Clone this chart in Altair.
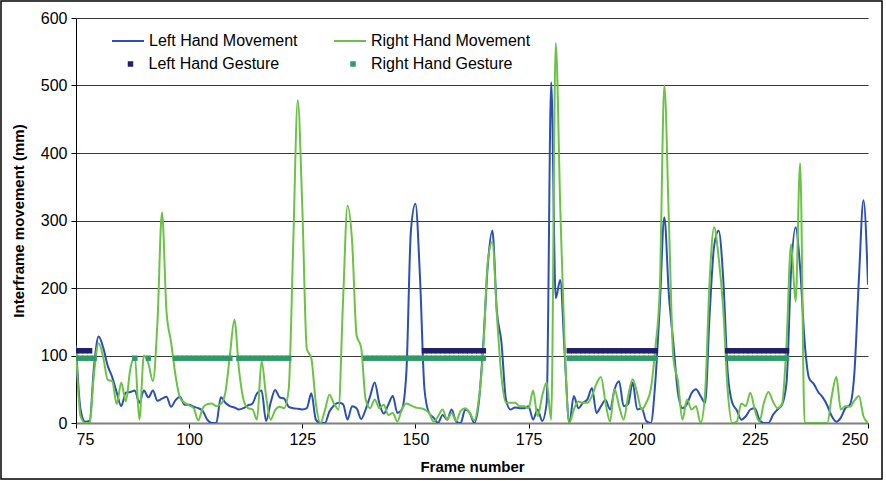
import altair as alt
import pandas as pd

# ---------------- data ----------------
FIRST_FRAME = 75

left_movement = [
    115, 20, 2, 3, 85, 128, 112, 85, 68, 45,          # 75-84
    25, 45, 46, 48, 30, 48, 38, 48, 33, 36,           # 85-94
    39, 24, 34, 39, 27, 27, 24, 22, 18, 5,            # 95-104
    0, 0, 38, 30, 25, 23, 20, 22, 26, 29,             # 105-114
    44, 48, 3, 30, 49, 38, 36, 24, 22, 21,            # 115-124
    20, 22, 44, 5, 0, 0, 17, 26, 30, 28,              # 125-134
    5, 25, 22, 6, 20, 40, 60, 30, 14, 27,             # 135-144
    40, 15, 20, 75, 285, 325, 217, 50, 15, 8,         # 145-154
    0, 12, 5, 20, 2, 0, 20, 15, 0, 30,                # 155-164
    118, 235, 285, 165, 120, 35, 20, 23, 22, 22,      # 165-174
    25, 5, 20, 3, 30, 505, 185, 212, 100, 0,          # 175-184
    40, 22, 30, 35, 52, 15, 25, 34, 20, 50,           # 185-194
    62, 25, 28, 60, 20, 22, 3, 0, 60, 175,            # 195-204
    305, 190, 118, 45, 22, 28, 44, 50, 40, 30,        # 205-214
    160, 262, 285, 215, 75, 30, 19, 5, 10, 20,        # 215-224
    22, 5, 0, 0, 12, 20, 27, 60, 225, 290,            # 225-234
    230, 120, 66, 58, 46, 38, 26, 10, 2, 8,           # 235-244
    22, 27, 75, 215, 330, 205,                        # 245-250
]

right_movement = [
    110, 10, 0, 0, 75, 118, 98, 64, 62, 28,           # 75-84
    60, 32, 80, 98, 5, 100, 88, 62, 150, 312,         # 85-94
    165, 120, 70, 37, 30, 26, 22, 4, 22, 28,          # 95-104
    29, 25, 28, 45, 100, 153, 80, 35, 22, 20,         # 105-114
    5, 92, 40, 5, 19, 24, 22, 50, 266, 478,           # 115-124
    320, 110, 96, 29, 0, 19, 42, 29, 20, 180,         # 125-134
    322, 270, 130, 112, 35, 22, 35, 22, 27, 12,       # 135-144
    15, 2, 20, 29, 26, 23, 22, 20, 15, 2,             # 145-154
    10, 20, 5, 15, 3, 18, 22, 15, 4, 35,              # 155-164
    110, 240, 268, 160, 69, 30, 30, 30, 25, 25,       # 165-174
    22, 48, 10, 40, 60, 5, 563, 320, 110, 0,          # 175-184
    20, 32, 30, 30, 40, 58, 68, 30, 2, 50,            # 185-194
    25, 5, 40, 65, 44, 20, 30, 50, 110, 200,          # 195-204
    500, 300, 95, 62, 5, 35, 20, 25, 0, 44,           # 205-214
    210, 290, 245, 170, 48, 0, 2, 29, 25, 45,         # 215-224
    19, 2, 30, 46, 32, 22, 28, 118, 265, 180,         # 225-234
    385, 0, 0, 0, 0, 0, 0, 40, 68, 20,                # 235-244
    25, 24, 33, 40, 10, 0,                            # 245-250
]

# gesture spans (first frame, last frame)
left_gesture_spans = [(75, 78), (152, 165), (184, 203), (219, 232)]
right_gesture_spans = [(75, 79), (88, 88), (91, 91), (97, 109), (111, 122),
                       (139, 165), (184, 203), (219, 232)]
left_gesture_level = 107
right_gesture_level = 96

series_names = ["Left Hand Movement", "Right Hand Movement"]
gesture_names = ["Left Hand Gesture", "Right Hand Gesture"]
x_ticks = [75, 100, 125, 150, 175, 200, 225, 250]
y_ticks = [0, 100, 200, 300, 400, 500, 600]

line_colors = ["#2c4fb3", "#6cc246"]
gesture_colors = ["#1f1f6c", "#2f9a68"]

FONT = "Liberation Sans"

# ---------------- tables ----------------
frames = list(range(FIRST_FRAME, FIRST_FRAME + len(left_movement)))
mov = pd.DataFrame({
    "frame": frames + frames,
    "value": left_movement + right_movement,
    "series": [series_names[0]] * len(frames) + [series_names[1]] * len(frames),
})

g_rows = []
for (a, b) in left_gesture_spans:
    for f in range(a, b + 1):
        g_rows.append({"frame": f, "value": left_gesture_level, "gesture": gesture_names[0]})
for (a, b) in right_gesture_spans:
    for f in range(a, b + 1):
        g_rows.append({"frame": f, "value": right_gesture_level, "gesture": gesture_names[1]})
gest = pd.DataFrame(g_rows)

x_enc = alt.X(
    "frame:Q",
    scale=alt.Scale(domain=[75, 250], nice=False, zero=False),
    axis=alt.Axis(
        values=x_ticks, grid=False, title="Frame number",
        domainColor="#808080", domainWidth=2,
        tickColor="black", tickSize=5, tickWidth=1,
        labelFont=FONT, labelFontSize=16, labelColor="black", labelPadding=3,
        titleFont=FONT, titleFontSize=15, titleFontWeight="bold", titleColor="black",
        titlePadding=12,
    ),
)
y_enc = alt.Y(
    "value:Q",
    scale=alt.Scale(domain=[0, 600], nice=False),
    axis=alt.Axis(
        values=y_ticks, grid=True, gridColor="#3a3a3a", gridWidth=1,
        title="Interframe movement (mm)",
        domainColor="black", domainWidth=1,
        tickColor="black", tickSize=5, tickWidth=1,
        labelFont=FONT, labelFontSize=16, labelColor="black", labelPadding=4,
        titleFont=FONT, titleFontSize=15, titleFontWeight="bold", titleColor="black",
        titlePadding=14,
    ),
)

lines = alt.Chart(mov).mark_line(strokeWidth=2, interpolate="monotone", clip=True).encode(
    x=x_enc,
    y=y_enc,
    color=alt.Color(
        "series:N",
        scale=alt.Scale(domain=series_names, range=line_colors),
        legend=alt.Legend(
            orient="none", legendX=35, legendY=6, direction="horizontal", columns=2,
            columnPadding=32, symbolType="stroke", symbolSize=1024, symbolStrokeWidth=2,
            labelFont=FONT, labelFontSize=16, labelColor="black", labelOffset=4,
            labelLimit=300, title=None, padding=0,
        ),
    ),
)

squares = alt.Chart(gest).mark_square(size=30, clip=True, opacity=1).encode(
    x="frame:Q",
    y="value:Q",
    fill=alt.Fill(
        "gesture:N",
        scale=alt.Scale(domain=gesture_names, range=gesture_colors),
        legend=alt.Legend(
            orient="none", legendX=46.5, legendY=38, direction="horizontal", columns=2,
            columnPadding=65.5, symbolType="square", symbolSize=30, symbolStrokeWidth=0,
            labelFont=FONT, labelFontSize=16, labelColor="black", labelOffset=10,
            labelLimit=300, title=None, padding=0,
        ),
    ),
)

frame_box = alt.Chart(pd.DataFrame({"k": [0]})).mark_rect(
    fill="transparent", stroke="black", strokeWidth=1.5
).encode(
    x=alt.value(-75), x2=alt.value(806), y=alt.value(-17), y2=alt.value(461)
)

chart = alt.layer(lines, squares, frame_box).properties(
    width=792, height=405,
    autosize=alt.AutoSizeParams(type="none"),
    padding={"left": 76, "top": 18, "right": 18, "bottom": 58},
    background="white",
).configure_view(stroke=None)

chart.save("out.html", embed_options={"renderer": "svg", "actions": False})
